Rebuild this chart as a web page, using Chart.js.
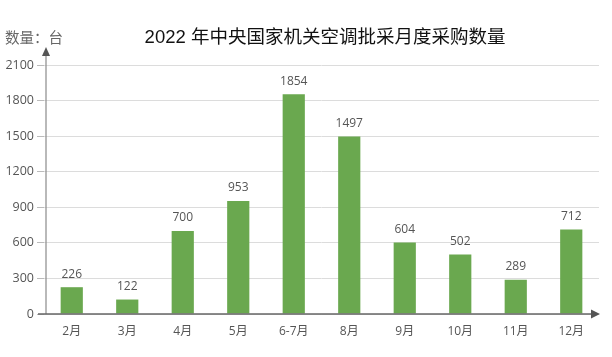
<!DOCTYPE html>
<html><head><meta charset="utf-8">
<script src="https://cdn.jsdelivr.net/npm/chart.js@4.4.0/dist/chart.umd.min.js"></script>
<style>html,body{margin:0;padding:0;background:#fff}#wrap{width:612px;height:357px;position:relative}</style>
</head><body><div id="wrap"><canvas id="c" width="612" height="357"></canvas></div>
<script>
const categories = ["2月","3月","4月","5月","6-7月","8月","9月","10月","11月","12月"];
const values = [226,122,700,953,1854,1497,604,502,289,712];
const yTicks = [0,300,600,900,1200,1500,1800,2100];
const titleText = "2022 年中央国家机关空调批采月度采购数量";
const unitText = "数量：台";

const decor = {
  id: 'decor',
  afterDatasetsDraw(chart) {
    const ctx = chart.ctx, a = chart.chartArea;
    const meta = chart.getDatasetMeta(0);
    ctx.save();
    ctx.font = '12px "Open Sans", "Noto Sans CJK SC", sans-serif';
    ctx.fillStyle = '#555';
    ctx.textAlign = 'center';
    ctx.textBaseline = 'bottom';
    meta.data.forEach((b, i) => ctx.fillText(String(values[i]), b.x, b.y - 7));
    // axes
    const yx = a.left + 2;
    ctx.strokeStyle = '#8a8a8a'; ctx.lineWidth = 1.2;
    ctx.beginPath(); ctx.moveTo(yx, a.bottom); ctx.lineTo(yx, a.top - 12); ctx.stroke();
    ctx.fillStyle = '#555';
    ctx.beginPath(); ctx.moveTo(yx, a.top - 18); ctx.lineTo(yx - 4, a.top - 9); ctx.lineTo(yx + 4, a.top - 9); ctx.closePath(); ctx.fill();
    ctx.strokeStyle = '#666'; ctx.lineWidth = 1.5;
    ctx.beginPath(); ctx.moveTo(a.left - 6, a.bottom); ctx.lineTo(a.right - 6, a.bottom); ctx.stroke();
    ctx.beginPath(); ctx.moveTo(a.right + 1, a.bottom); ctx.lineTo(a.right - 8, a.bottom - 4.5); ctx.lineTo(a.right - 8, a.bottom + 4.5); ctx.closePath(); ctx.fill();
    // titles
    ctx.fillStyle = '#111';
    ctx.font = '18.5px "Liberation Sans", "Noto Sans CJK SC", sans-serif';
    ctx.textAlign = 'center'; ctx.textBaseline = 'middle';
    ctx.fillText(titleText, 325, 38);
    ctx.fillStyle = '#666';
    ctx.font = '14.5px "Noto Sans CJK SC", sans-serif';
    ctx.textAlign = 'left';
    ctx.fillText(unitText, 5, 37);
    ctx.restore();
  }
};

new Chart(document.getElementById('c'), {
  type: 'bar',
  data: { labels: categories, datasets: [{ data: values, backgroundColor: '#6aa84f', barPercentage: 0.8, categoryPercentage: 0.5 }] },
  options: {
    responsive: false, animation: false, devicePixelRatio: 1,
    layout: { padding: { top: 65, right: 13, left: 0, bottom: 0 } },
    plugins: { legend: { display: false }, tooltip: { enabled: false } },
    scales: {
      x: {
        grid: { display: false, drawTicks: false },
        border: { display: false },
        ticks: { color: '#555', font: { size: 12, family: '"Open Sans", "Noto Sans CJK SC", sans-serif' }, padding: 10, maxRotation: 0 },
        afterFit(s) { s.height = 43; }
      },
      y: {
        min: 0, max: 2100,
        afterBuildTicks(s) { s.ticks = yTicks.map(v => ({ value: v })); },
        grid: { color: '#dcdcdc', tickLength: 7, tickColor: '#bbb' },
        border: { display: false },
        ticks: { color: '#555', font: { size: 12.5, family: '"Open Sans", sans-serif' }, padding: 3, callback: v => String(v) },
        afterFit(s) { s.width = 44; }
      }
    }
  },
  plugins: [decor]
});
</script></body></html>
